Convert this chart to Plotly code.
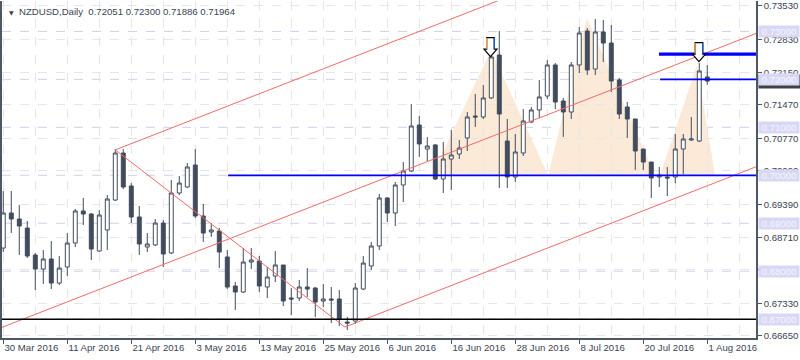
import plotly.graph_objects as go

# ---------------- data (NZDUSD daily, bar index 0 = 30 Mar 2016) ----------------
OPEN = [0.68484, 0.69214, 0.69089, 0.68901, 0.68338, 0.68046, 0.68255, 0.67754, 0.68088, 0.68588,
        0.69256, 0.69193, 0.68422, 0.68860, 0.69485, 0.70465, 0.69777, 0.69131, 0.68505, 0.68547,
        0.69005, 0.68380, 0.69631, 0.69756, 0.70215, 0.69151, 0.68818, 0.68839, 0.68297, 0.67692,
        0.67567, 0.68192, 0.68213, 0.67671, 0.67900, 0.68130, 0.67442, 0.67442, 0.67671, 0.67650,
        0.67379, 0.67421, 0.67421, 0.66941, 0.66962, 0.67629, 0.68109, 0.68526, 0.69527, 0.69214,
        0.69798, 0.70090, 0.71049, 0.70548, 0.70632, 0.69923, 0.70340, 0.70444, 0.70778, 0.71236,
        0.71216, 0.71612, 0.72508, 0.70715, 0.69965, 0.70465, 0.71111, 0.71362, 0.71653, 0.72300,
        0.71549, 0.71320, 0.72300, 0.73009, 0.72216, 0.72988, 0.72758, 0.71987, 0.71424, 0.71174,
        0.70548, 0.70277, 0.69965, 0.69965, 0.69965, 0.70548, 0.70736, 0.70715, 0.72051]
HIGH = [0.69673, 0.69673, 0.69381, 0.69047, 0.68380, 0.68443, 0.68630, 0.68317, 0.68797, 0.69297,
        0.69527, 0.69214, 0.69277, 0.69589, 0.70548, 0.70548, 0.69839, 0.69360, 0.68797, 0.69089,
        0.69068, 0.69902, 0.69985, 0.70256, 0.70548, 0.69402, 0.69005, 0.68901, 0.68443, 0.67775,
        0.68484, 0.68484, 0.68317, 0.68088, 0.68422, 0.68130, 0.67650, 0.67817, 0.68067, 0.67671,
        0.67734, 0.67671, 0.67609, 0.67046, 0.67754, 0.68317, 0.68609, 0.69610, 0.69548, 0.69860,
        0.70277, 0.71487, 0.71236, 0.70799, 0.70653, 0.70694, 0.70945, 0.70736, 0.71320, 0.71695,
        0.71883, 0.72550, 0.73009, 0.71174, 0.70861, 0.71382, 0.71424, 0.71987, 0.72404, 0.72341,
        0.71612, 0.72362, 0.73092, 0.73071, 0.73259, 0.73238, 0.73134, 0.72029, 0.71528, 0.71174,
        0.70548, 0.70277, 0.70173, 0.70173, 0.70861, 0.70861, 0.71216, 0.72341, 0.72300]
LOW = [0.68401, 0.68797, 0.68338, 0.68276, 0.67609, 0.67734, 0.67629, 0.67713, 0.67900, 0.68505,
       0.68964, 0.68234, 0.68401, 0.68443, 0.69464, 0.69714, 0.69005, 0.68338, 0.68401, 0.68526,
       0.68088, 0.68359, 0.69589, 0.69735, 0.69110, 0.68609, 0.68714, 0.68067, 0.67629, 0.67192,
       0.67546, 0.68046, 0.67567, 0.67442, 0.67775, 0.67275, 0.67087, 0.67379, 0.67463, 0.67046,
       0.67254, 0.66920, 0.66858, 0.66775, 0.66900, 0.67609, 0.68026, 0.68443, 0.69026, 0.68943,
       0.69443, 0.70069, 0.70382, 0.70298, 0.69902, 0.69631, 0.69694, 0.70340, 0.70507, 0.71007,
       0.71174, 0.71591, 0.69735, 0.69735, 0.69860, 0.70402, 0.71090, 0.71195, 0.71591, 0.71382,
       0.70799, 0.71174, 0.72133, 0.72091, 0.72091, 0.72362, 0.71737, 0.71174, 0.70778, 0.70111,
       0.70111, 0.69527, 0.69756, 0.69568, 0.69833, 0.70027, 0.70715, 0.70694, 0.71886]
CLOSE = [0.69214, 0.69089, 0.68943, 0.68317, 0.68046, 0.68255, 0.67754, 0.68067, 0.68588, 0.69256,
         0.69193, 0.68463, 0.69172, 0.69506, 0.70465, 0.69756, 0.69131, 0.68568, 0.68568, 0.69005,
         0.68359, 0.69631, 0.69839, 0.70173, 0.69151, 0.68797, 0.68860, 0.68401, 0.67671, 0.67567,
         0.68192, 0.68234, 0.67692, 0.67880, 0.68130, 0.67379, 0.67421, 0.67671, 0.67629, 0.67358,
         0.67421, 0.67400, 0.67004, 0.66920, 0.67650, 0.68171, 0.68526, 0.69527, 0.69214, 0.69798,
         0.70090, 0.71028, 0.70653, 0.70611, 0.69923, 0.70340, 0.70423, 0.70569, 0.71216, 0.71216,
         0.71612, 0.72467, 0.71278, 0.69965, 0.70486, 0.71132, 0.71362, 0.71633, 0.72300, 0.71528,
         0.71320, 0.72300, 0.72967, 0.72196, 0.72988, 0.72758, 0.71966, 0.71278, 0.71174, 0.70507,
         0.70277, 0.69944, 0.70006, 0.69944, 0.70548, 0.70757, 0.70757, 0.72175, 0.71964]

X_TICK_LABELS = ["30 Mar 2016", "11 Apr 2016", "21 Apr 2016", "3 May 2016", "13 May 2016",
                 "25 May 2016", "6 Jun 2016", "16 Jun 2016", "28 Jun 2016", "8 Jul 2016",
                 "20 Jul 2016", "1 Aug 2016"]
Y_TICKS = [0.73530, 0.72830, 0.72150, 0.71470, 0.70770, 0.70090, 0.69390, 0.68710, 0.68030,
           0.67330, 0.66650]
ROUND_LEVELS = [0.73, 0.72, 0.71, 0.70, 0.69, 0.68, 0.67]
LAST_PRICE = 0.71964
HEADER = "NZDUSD,Daily  0.72051 0.72300 0.71886 0.71964"

# ---------------- drawing objects (bar index, price) ----------------
CH_HIGH = (14.0, 0.70530)     # channel anchor on April high
CH_LOW = (42.7, 0.66837)      # channel anchor on May low
CH_SLOPE = 0.00065            # price per bar
HS_BASE = 0.7000
HS_TRIANGLES = [(53.6, 60.96, 68.1, 0.72613), (68.1, 72.96, 81.46, 0.73280),
                (82.09, 86.71, 88.96, 0.72300)]
BLUE_LEVELS = [(28.1, 0.70000, 1.8), (82.1, 0.72000, 1.6), (81.96, 0.72525, 3.2)]
BLACK_LEVEL = 0.67000
ARROWS = [(60.9, 0.72473), (86.96, 0.72369)]

X_MIN, X_MAX = -0.16, 94.09
Y_MIN, Y_MAX = 0.66608, 0.73634

CANDLE = "#414C5C"
AXIS = "#4E5864"
TXT = "#3A4452"
FONT = "Liberation Sans"

n = len(OPEN)
idx = list(range(n))

fig = go.Figure()

fig.add_trace(go.Candlestick(
    x=idx, open=OPEN, high=HIGH, low=LOW, close=CLOSE,
    increasing=dict(line=dict(color=CANDLE, width=1), fillcolor="#FFFFFF"),
    decreasing=dict(line=dict(color=CANDLE, width=1), fillcolor=CANDLE),
    whiskerwidth=0, showlegend=False, hoverinfo="skip"))

red = dict(color="#EE6B6B", width=1)


def ch(x, anchor):
    return anchor[1] + CH_SLOPE * (x - anchor[0])


mx = (CH_HIGH[0] + CH_LOW[0]) / 2
mid_anchor = (mx, (ch(mx, CH_HIGH) + ch(mx, CH_LOW)) / 2)
lines = [
    ([CH_HIGH[0], CH_LOW[0]], [CH_HIGH[1], CH_LOW[1]]),
    ([CH_HIGH[0], X_MAX + 1], [CH_HIGH[1], ch(X_MAX + 1, CH_HIGH)]),
    ([CH_LOW[0], X_MAX + 1], [CH_LOW[1], ch(X_MAX + 1, CH_LOW)]),
    ([X_MIN - 1, X_MAX + 1], [ch(X_MIN - 1, mid_anchor), ch(X_MAX + 1, mid_anchor)]),
]
for xs, ys in lines:
    fig.add_trace(go.Scatter(x=xs, y=ys, mode="lines", line=red, showlegend=False, hoverinfo="skip"))

for x0, lvl, w in BLUE_LEVELS:
    fig.add_trace(go.Scatter(x=[x0, X_MAX + 1], y=[lvl, lvl], mode="lines",
                             line=dict(color="#0000FF", width=w), showlegend=False, hoverinfo="skip"))
fig.add_trace(go.Scatter(x=[X_MIN - 1, X_MAX + 1], y=[BLACK_LEVEL, BLACK_LEVEL], mode="lines",
                         line=dict(color="#000000", width=1.5), showlegend=False, hoverinfo="skip"))

shapes = []
for a, p, b, top in HS_TRIANGLES:
    shapes.append(dict(type="path", xref="x", yref="y", layer="below",
                       path=f"M{a},{HS_BASE} L{p},{top} L{b},{HS_BASE} Z",
                       fillcolor="#FBEAD8", line=dict(width=0)))
for lvl in ROUND_LEVELS:
    shapes.append(dict(type="line", xref="paper", yref="y", x0=0, x1=1, y0=lvl, y1=lvl,
                       layer="below", line=dict(color="#CFCFF0", width=1, dash="dash")))
arrow_path = "M0,0 L-6.5,7.5 L-3.8,7.5 L-3.8,19 L3.8,19 L3.8,7.5 L6.5,7.5 Z"
for ax, ay in ARROWS:
    common = dict(type="path", xref="x", yref="y", xsizemode="pixel", ysizemode="pixel",
                  xanchor=ax, yanchor=ay, layer="above")
    shapes.append(dict(path=arrow_path, fillcolor="#FFFFFF", line=dict(color="#000000", width=1.2), **common))
    shapes.append(dict(path="M-3.8,8 L-3.8,18.6", line=dict(color="#F0A040", width=1.3), **common))
    shapes.append(dict(path="M3.8,8 L3.8,18.6", line=dict(color="#2060D0", width=1.3), **common))

annotations = [
    dict(xref="paper", yref="paper", x=0, y=1, xanchor="left", yanchor="top", xshift=5, yshift=-6,
         text="▼", showarrow=False, font=dict(family="DejaVu Sans", size=6, color=TXT)),
    dict(xref="paper", yref="paper", x=0, y=1, xanchor="left", yanchor="top", xshift=15, yshift=-3,
         text=HEADER.replace("  ", "&nbsp;&nbsp;"), showarrow=False,
         font=dict(family=FONT, size=9.6, color=TXT)),
    dict(xref="paper", yref="y", x=1, y=LAST_PRICE, xanchor="left", xshift=2, width=40,
         text=f"{LAST_PRICE:.5f}", showarrow=False, bgcolor="#3C4048", borderpad=1,
         font=dict(family=FONT, size=9.6, color="#FFFFFF")),
]
for lvl in ROUND_LEVELS:
    annotations.append(dict(xref="paper", yref="y", x=1, y=lvl, xanchor="left", xshift=2, width=40,
                            text=f"{lvl:.5f}", showarrow=False, bgcolor="#D8D8F5", borderpad=0,
                            font=dict(family=FONT, size=9.6, color="#F6F6FF")))

tickvals = [8 * k for k in range(len(X_TICK_LABELS))]
minor_vals = [8 * k + 4 for k in range(len(X_TICK_LABELS) + 1)]

fig.update_layout(
    width=800, height=360,
    margin=dict(l=2, r=44, t=1, b=22, pad=0),
    paper_bgcolor="#FFFFFF", plot_bgcolor="#FFFFFF",
    shapes=shapes, annotations=annotations, showlegend=False,
    font=dict(family=FONT, size=9.6, color=TXT),
    xaxis=dict(range=[X_MIN, X_MAX], rangeslider=dict(visible=False), automargin=False,
               tickvals=tickvals, ticktext=X_TICK_LABELS, ticklabelposition="outside right",
               tickangle=0, ticks="outside", ticklen=4, tickcolor=AXIS,
               showline=True, linecolor=AXIS, linewidth=1.5,
               showgrid=True, gridcolor="#E6E6E6", griddash="dash", gridwidth=1,
               minor=dict(tickvals=minor_vals, showgrid=True, gridcolor="#E6E6E6",
                          griddash="dash", ticks=""),
               zeroline=False, tickfont=dict(family=FONT, size=9.6, color=TXT)),
    yaxis=dict(range=[Y_MIN, Y_MAX], side="right", tickvals=Y_TICKS, automargin=False,
               ticktext=[f"{v:.5f}" for v in Y_TICKS],
               ticks="outside", ticklen=4, tickcolor=AXIS,
               showline=True, linecolor=AXIS, linewidth=1.5, mirror=True,
               showgrid=True, gridcolor="#E6E6E6", griddash="dash", gridwidth=1,
               zeroline=False, tickfont=dict(family=FONT, size=9.6, color=TXT)),
)

fig.write_html("out.html", config={"displayModeBar": False},
               post_script="document.body.style.margin='0';document.body.style.padding='0';")
